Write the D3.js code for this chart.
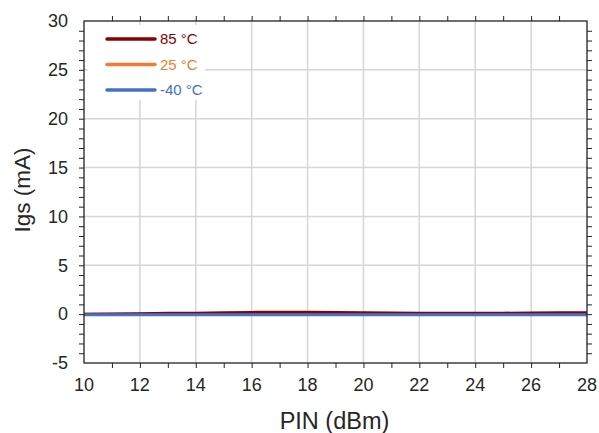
<!DOCTYPE html>
<html>
<head>
<meta charset="utf-8">
<script src="https://cdnjs.cloudflare.com/ajax/libs/d3/7.8.5/d3.min.js"></script>
<style>
  body { margin: 0; background: #fff; }
  text { font-family: "Liberation Sans", Arial, sans-serif; }
</style>
</head>
<body>
<div id="chart"></div>
<script>
// Data
const pin = [10, 11, 12, 13, 14, 15, 16, 17, 18, 19, 20, 21, 22, 23, 24, 25, 26, 27, 28];
const igs85 = [0.0, 0.02, 0.05, 0.08, 0.1, 0.15, 0.18, 0.2, 0.2, 0.18, 0.15, 0.12, 0.1, 0.08, 0.08, 0.1, 0.12, 0.15, 0.15];
const igs25 = [0.0, 0.0, 0.02, 0.03, 0.05, 0.05, 0.06, 0.08, 0.08, 0.08, 0.07, 0.06, 0.05, 0.05, 0.04, 0.04, 0.05, 0.05, 0.05];
const igsM40 = [-0.05, -0.05, -0.05, -0.06, -0.06, -0.07, -0.07, -0.07, -0.07, -0.06, -0.06, -0.06, -0.06, -0.06, -0.07, -0.07, -0.07, -0.06, -0.06];
const seriesNames = ["85 °C", "25 °C", "-40 °C"];
const seriesColors = ["#8b0000", "#ed7d31", "#4472c4"];
const xTicks = [10, 12, 14, 16, 18, 20, 22, 24, 26, 28];
const yTicks = [-5, 0, 5, 10, 15, 20, 25, 30];

const W = 599, H = 433;
const margin = { top: 21, right: 12, bottom: 70, left: 84 };
const width = W - margin.left - margin.right;
const height = H - margin.top - margin.bottom;

const svg = d3.select("#chart")
    .append("svg")
    .attr("width", W)
    .attr("height", H);

const g = svg.append("g")
    .attr("transform", `translate(${margin.left},${margin.top})`);

const x = d3.scaleLinear().domain([10, 28]).range([0, width]);
const y = d3.scaleLinear().domain([-5, 30]).range([height, 0]);

// gridlines
g.append("g").selectAll("line")
    .data(xTicks.slice(1, -1))
    .enter().append("line")
    .attr("x1", d => x(d)).attr("x2", d => x(d))
    .attr("y1", 0).attr("y2", height)
    .attr("stroke", "#d6d6d6")
    .attr("stroke-width", 1.5);

g.append("g").selectAll("line")
    .data(yTicks.slice(1, -1))
    .enter().append("line")
    .attr("x1", 0).attr("x2", width)
    .attr("y1", d => y(d)).attr("y2", d => y(d))
    .attr("stroke", "#d6d6d6")
    .attr("stroke-width", 1.5);

// minor ticks inside on all sides
const xMinor = d3.range(11, 28, 1);
const yMinor = d3.range(-4, 30, 1);
g.append("g").call(d3.axisTop(x).tickValues(xMinor).tickSize(-5).tickFormat(""))
    .attr("transform", `translate(0,${height})`)
    .call(a => a.select(".domain").remove());
g.append("g").call(d3.axisBottom(x).tickValues(xMinor).tickSize(-5).tickFormat(""))
    .call(a => a.select(".domain").remove());
g.append("g").call(d3.axisRight(y).tickValues(yMinor).tickSize(-5).tickFormat(""))
    .call(a => a.select(".domain").remove());
g.append("g").call(d3.axisLeft(y).tickValues(yMinor).tickSize(-5).tickFormat(""))
    .attr("transform", `translate(${width},0)`)
    .call(a => a.select(".domain").remove());
g.selectAll(".tick line").attr("stroke", "#222");

// legend background
g.append("rect")
    .attr("x", 4).attr("y", 4)
    .attr("width", 117).attr("height", 75)
    .attr("fill", "#fff");

// lines
const series = [igs85, igs25, igsM40];
const line = d3.line()
    .x((d, i) => x(pin[i]))
    .y(d => y(d));

[1, 0, 2].forEach(k => {
    g.append("path")
        .datum(series[k])
        .attr("fill", "none")
        .attr("stroke", seriesColors[k])
        .attr("stroke-width", 3)
        .attr("d", line);
});

// frame
g.append("rect")
    .attr("width", width).attr("height", height)
    .attr("fill", "none")
    .attr("stroke", "#222")
    .attr("stroke-width", 1.3);

// tick labels
g.append("g").selectAll("text")
    .data(xTicks)
    .enter().append("text")
    .attr("x", d => x(d))
    .attr("y", height + 28)
    .attr("text-anchor", "middle")
    .attr("font-size", 18)
    .attr("fill", "#262626")
    .text(d => d);

g.append("g").selectAll("text")
    .data(yTicks)
    .enter().append("text")
    .attr("x", -16)
    .attr("y", d => y(d))
    .attr("dy", "0.35em")
    .attr("text-anchor", "end")
    .attr("font-size", 18)
    .attr("fill", "#262626")
    .text(d => d);

// axis titles
svg.append("text")
    .attr("x", margin.left + width / 2 - 1)
    .attr("y", 429)
    .attr("text-anchor", "middle")
    .attr("font-size", 23.5)
    .attr("fill", "#262626")
    .text("PIN (dBm)");

svg.append("text")
    .attr("transform", `translate(30,${margin.top + y(12.7)}) rotate(-90)`)
    .attr("text-anchor", "middle")
    .attr("font-size", 22.5)
    .attr("fill", "#262626")
    .text("Igs (mA)");

// legend
const legend = g.append("g").attr("transform", "translate(23,18)");
seriesNames.forEach((name, i) => {
    const ly = i * 25.5;
    legend.append("line")
        .attr("x1", 0).attr("x2", 48)
        .attr("y1", ly).attr("y2", ly)
        .attr("stroke", seriesColors[i])
        .attr("stroke-width", 3.5)
        .attr("stroke-linecap", "round");
    legend.append("text")
        .attr("x", 53).attr("y", ly)
        .attr("dy", "0.35em")
        .attr("font-size", 15)
        .attr("fill", seriesColors[i])
        .text(name);
});
</script>
</body>
</html>
